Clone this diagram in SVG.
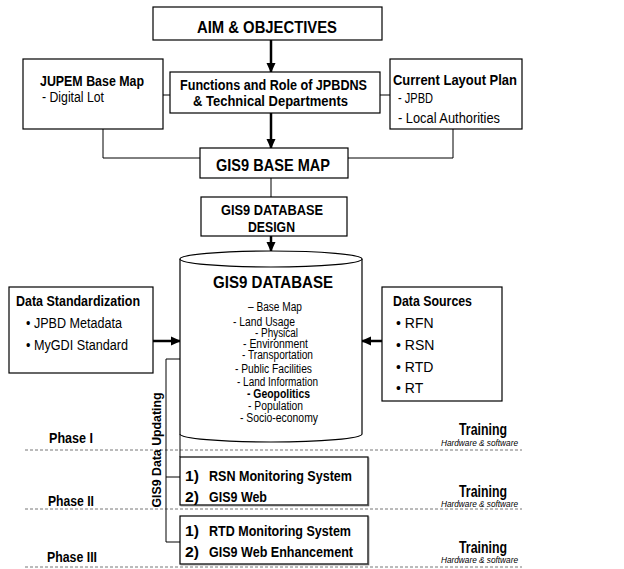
<svg xmlns="http://www.w3.org/2000/svg" width="624" height="569" viewBox="0 0 624 569">
<style>
text{font-family:"Liberation Sans",Arial,sans-serif;fill:#000}
.b{font-weight:bold}
.box{fill:#fff;stroke:#000;stroke-width:1.2}
.shadow{fill:none;stroke:#555;stroke-width:1.5}
.thin{fill:none;stroke:#000;stroke-width:1}
.thick{fill:none;stroke:#000;stroke-width:2.5}
.dash{fill:none;stroke:#777;stroke-width:1;stroke-dasharray:3,2}
.t17{font-size:17px}
.t16{font-size:16px}
.t15{font-size:15px}
.t14{font-size:14px}
.t12{font-size:12px}
.hw{font-size:9.5px;font-style:italic}
</style>
<defs>
<marker id="ah" markerWidth="10" markerHeight="10" refX="9" refY="5" orient="auto" markerUnits="userSpaceOnUse">
<path d="M0,0.5 L10,5 L0,9.5 Z" fill="#000"/>
</marker>
</defs>
<g id="phases">
<line class="dash" x1="25" y1="450" x2="522" y2="450"/>
<line class="dash" x1="25" y1="509" x2="522" y2="509"/>
<line class="dash" x1="25" y1="567" x2="522" y2="567"/>
<text class="b t14" x="49" y="443" textLength="44" lengthAdjust="spacingAndGlyphs">Phase I</text>
<text class="b t14" x="48" y="506" textLength="46" lengthAdjust="spacingAndGlyphs">Phase II</text>
<text class="b t14" x="47" y="562" textLength="50" lengthAdjust="spacingAndGlyphs">Phase III</text>
<text class="b t16" x="459" y="435" textLength="48" lengthAdjust="spacingAndGlyphs">Training</text>
<text class="hw" x="441" y="446" textLength="77" lengthAdjust="spacingAndGlyphs">Hardware &amp; software</text>
<text class="b t16" x="459" y="497" textLength="48" lengthAdjust="spacingAndGlyphs">Training</text>
<text class="hw" x="441" y="507" textLength="77" lengthAdjust="spacingAndGlyphs">Hardware &amp; software</text>
<text class="b t16" x="459" y="553" textLength="48" lengthAdjust="spacingAndGlyphs">Training</text>
<text class="hw" x="441" y="563" textLength="77" lengthAdjust="spacingAndGlyphs">Hardware &amp; software</text>
</g>
<g id="connectors">
<line class="thick" x1="271" y1="40" x2="271" y2="72" marker-end="url(#ah)"/>
<line class="thick" x1="271" y1="113" x2="271" y2="148" marker-end="url(#ah)"/>
<line class="thin" x1="271" y1="178" x2="271" y2="197"/>
<line class="thick" x1="271" y1="236" x2="271" y2="251" marker-end="url(#ah)"/>
<line class="thick" x1="151" y1="341" x2="180" y2="341" marker-end="url(#ah)"/>
<line class="thick" x1="382" y1="341" x2="362" y2="341" marker-end="url(#ah)"/>
<polyline class="thin" points="103,129 103,158 200,158"/>
<polyline class="thin" points="453,129 453,158 348,158"/>
<line class="thin" x1="163" y1="95" x2="170" y2="95"/>
<line class="thin" x1="380" y1="95" x2="390" y2="95"/>
<line class="thin" x1="180" y1="434" x2="180" y2="457"/>
<polyline class="thin" points="180,359 166,359 166,542 180,542"/>
<line class="thin" x1="166" y1="477" x2="180" y2="477"/>
</g>
<g id="aim">
<rect class="box" x="153" y="7" width="229" height="33"/>
<text class="b t17" x="197" y="33" textLength="140" lengthAdjust="spacingAndGlyphs">AIM &amp; OBJECTIVES</text>
</g>
<g id="jupem">
<rect class="box" x="23" y="59" width="140" height="70"/>
<text class="b t14" x="40" y="86" textLength="104" lengthAdjust="spacingAndGlyphs">JUPEM Base Map</text>
<text class="t14" x="42" y="102" textLength="62" lengthAdjust="spacingAndGlyphs">- Digital Lot</text>
</g>
<g id="functions">
<rect class="box" x="170" y="72" width="210" height="41"/>
<text class="b t14" x="180" y="90" textLength="187" lengthAdjust="spacingAndGlyphs">Functions and Role of JPBDNS</text>
<text class="b t14" x="193" y="106" textLength="155" lengthAdjust="spacingAndGlyphs">&amp; Technical Departments</text>
</g>
<g id="layout">
<rect class="box" x="390" y="59" width="132" height="70"/>
<text class="b t14" x="393" y="85" textLength="124" lengthAdjust="spacingAndGlyphs">Current Layout Plan</text>
<text class="t14" x="398" y="103" textLength="35" lengthAdjust="spacingAndGlyphs">- JPBD</text>
<text class="t14" x="398" y="123" textLength="102" lengthAdjust="spacingAndGlyphs">- Local Authorities</text>
</g>
<g id="basemap">
<rect class="box" x="200" y="148" width="148" height="30"/>
<text class="b t17" x="216" y="171" textLength="114" lengthAdjust="spacingAndGlyphs">GIS9 BASE MAP</text>
</g>
<g id="design">
<rect class="box" x="201" y="197" width="146" height="39"/>
<text class="b t14" x="221" y="215" textLength="102" lengthAdjust="spacingAndGlyphs">GIS9 DATABASE</text>
<text class="b t14" x="248" y="232" textLength="47" lengthAdjust="spacingAndGlyphs">DESIGN</text>
</g>
<g id="database">
<path class="box" d="M180,259 L180,434 A91,8 0 0 0 362,434 L362,259"/>
<ellipse class="box" cx="271" cy="259" rx="91" ry="8"/>
<text class="b t17" x="213" y="288" textLength="120" lengthAdjust="spacingAndGlyphs">GIS9 DATABASE</text>
<g class="t12">
<text x="248" y="311" textLength="54" lengthAdjust="spacingAndGlyphs">– Base Map</text>
<text x="233" y="326" textLength="62" lengthAdjust="spacingAndGlyphs">- Land Usage</text>
<text x="255" y="337" textLength="43" lengthAdjust="spacingAndGlyphs">- Physical</text>
<text x="243" y="348" textLength="65" lengthAdjust="spacingAndGlyphs">- Environment</text>
<text x="242" y="359" textLength="71" lengthAdjust="spacingAndGlyphs">- Transportation</text>
<text x="235" y="373" textLength="77" lengthAdjust="spacingAndGlyphs">- Public Facilities</text>
<text x="237" y="386" textLength="81" lengthAdjust="spacingAndGlyphs">- Land Information</text>
<text x="247" y="398" class="b" textLength="63" lengthAdjust="spacingAndGlyphs">- Geopolitics</text>
<text x="248" y="410" textLength="55" lengthAdjust="spacingAndGlyphs">- Population</text>
<text x="240" y="422" textLength="78" lengthAdjust="spacingAndGlyphs">- Socio-economy</text>
</g>
</g>
<g id="standard">
<rect class="box" x="9" y="287" width="144" height="86"/>
<text class="b t14" x="16" y="306" textLength="124" lengthAdjust="spacingAndGlyphs">Data Standardization</text>
<text class="t14" x="26" y="328" textLength="96" lengthAdjust="spacingAndGlyphs">• JPBD Metadata</text>
<text class="t14" x="26" y="350" textLength="102" lengthAdjust="spacingAndGlyphs">• MyGDI Standard</text>
</g>
<g id="sources">
<rect class="box" x="382" y="287" width="120" height="114"/>
<text class="b t14" x="393" y="306" textLength="79" lengthAdjust="spacingAndGlyphs">Data Sources</text>
<text class="t14" x="396" y="328">• RFN</text>
<text class="t14" x="396" y="350">• RSN</text>
<text class="t14" x="396" y="372">• RTD</text>
<text class="t14" x="396" y="393">• RT</text>
</g>
<g id="updating">
<text class="b t12" x="0" y="0" text-anchor="middle" textLength="115" lengthAdjust="spacingAndGlyphs" transform="translate(161,450) rotate(-90)">GIS9 Data Updating</text>
</g>
<g id="phase2">
<rect class="box" x="180" y="457" width="188" height="48"/>
<polyline class="shadow" points="368.5,457.5 368.5,505.5 180.5,505.5"/>
<text class="b t15" x="185" y="481" textLength="14" lengthAdjust="spacingAndGlyphs">1)</text>
<text class="b t15" x="209" y="481" textLength="143" lengthAdjust="spacingAndGlyphs">RSN Monitoring System</text>
<text class="b t15" x="185" y="502" textLength="14" lengthAdjust="spacingAndGlyphs">2)</text>
<text class="b t15" x="209" y="502" textLength="58" lengthAdjust="spacingAndGlyphs">GIS9 Web</text>
</g>
<g id="phase3">
<rect class="box" x="180" y="516" width="188" height="48"/>
<polyline class="shadow" points="368.5,516.5 368.5,564.5 180.5,564.5"/>
<text class="b t15" x="185" y="536" textLength="14" lengthAdjust="spacingAndGlyphs">1)</text>
<text class="b t15" x="209" y="536" textLength="142" lengthAdjust="spacingAndGlyphs">RTD Monitoring System</text>
<text class="b t15" x="185" y="557" textLength="14" lengthAdjust="spacingAndGlyphs">2)</text>
<text class="b t15" x="209" y="557" textLength="144" lengthAdjust="spacingAndGlyphs">GIS9 Web Enhancement</text>
</g>
</svg>
